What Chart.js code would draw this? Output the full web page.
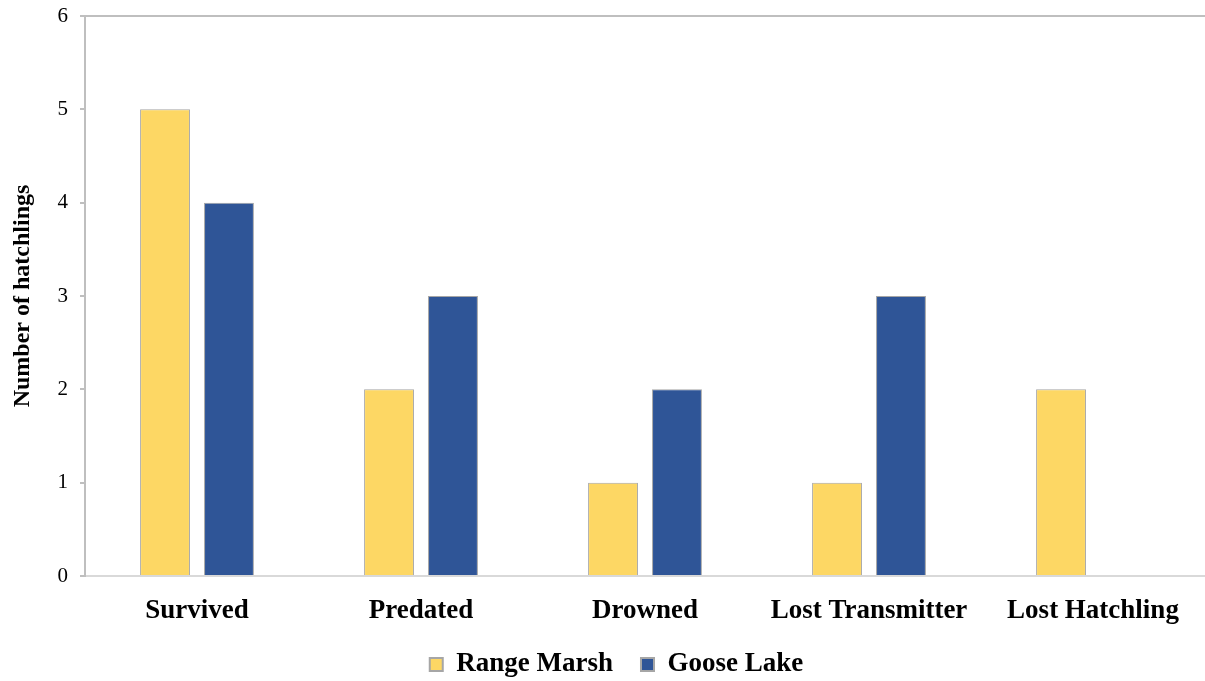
<!DOCTYPE html>
<html>
<head>
<meta charset="utf-8">
<script src="https://cdn.jsdelivr.net/npm/chart.js@4"></script>
<style>
  html, body { margin: 0; padding: 0; background: #ffffff; }
  #wrap { width: 1205px; height: 681px; }
</style>
</head>
<body>
<div id="wrap"><canvas id="chart" width="1205" height="681"></canvas></div>
<script>
// Hatchling fates by site
const categories = ['Survived', 'Predated', 'Drowned', 'Lost Transmitter', 'Lost Hatchling'];
const rangeMarsh = [5, 2, 1, 1, 2];
const gooseLake = [4, 3, 2, 3, 0];
const yTicks = [0, 1, 2, 3, 4, 5, 6];

const serif = "'Liberation Serif', 'Times New Roman', serif";

// Legend band: fixed height in the layout; its box is then stretched upward
// and nudged right so the wide-spaced items sit under the plot centre.
const LEGEND_BAND = 49;
const LEGEND_LIFT = 9;
const LEGEND_SHIFT = 14;
const legendBand = {
  id: 'legendBand',
  beforeLayout(chart) {
    const lg = chart.legend;
    if (lg && !lg._bandFit) {
      const fit = lg.fit;
      lg.fit = function () {
        fit.call(this);
        this.height = LEGEND_BAND;
      };
      lg._bandFit = true;
    }
  },
  afterLayout(chart) {
    const lg = chart.legend;
    if (lg) {
      lg.top -= LEGEND_LIFT;
      lg.left += LEGEND_SHIFT;
      lg.right += LEGEND_SHIFT;
    }
  }
};

new Chart(document.getElementById('chart'), {
  type: 'bar',
  data: {
    labels: categories,
    datasets: [
      {
        label: 'Range Marsh',
        data: rangeMarsh,
        backgroundColor: '#FDD764',
        borderColor: '#A6A6A6',
        borderWidth: 1,
        categoryPercentage: 0.571,
        barPercentage: 0.78
      },
      {
        label: 'Goose Lake',
        data: gooseLake,
        backgroundColor: '#2F5597',
        borderColor: '#A6A6A6',
        borderWidth: 1,
        categoryPercentage: 0.571,
        barPercentage: 0.78
      }
    ]
  },
  plugins: [legendBand],
  options: {
    responsive: false,
    animation: false,
    layout: { padding: { top: 16, right: 0, left: 0, bottom: 0 } },
    plugins: {
      tooltip: { enabled: false },
      legend: {
        position: 'bottom',
        labels: {
          color: '#000000',
          font: { family: serif, size: 27, weight: 'bold' },
          boxWidth: 13,
          boxHeight: 13,
          padding: 28,
          generateLabels(chart) {
            return chart.data.datasets.map((ds, i) => ({
              text: ds.label,
              fillStyle: ds.backgroundColor,
              strokeStyle: '#A6A6A6',
              lineWidth: 2,
              fontColor: '#000000',
              datasetIndex: i
            }));
          }
        }
      }
    },
    scales: {
      x: {
        border: { color: '#D9D9D9', width: 2 },
        grid: { drawOnChartArea: false, drawTicks: false },
        ticks: {
          color: '#000000',
          padding: 19,
          font: { family: serif, size: 27, weight: 'bold' },
          maxRotation: 0
        },
        afterFit(scale) {
          scale.height = 56;
          scale.paddingLeft = 0;
          scale.paddingRight = 0;
        }
      },
      y: {
        min: 0,
        max: 6,
        afterBuildTicks(scale) { scale.ticks = yTicks.map(v => ({ value: v })); },
        border: { color: '#BFBFBF', width: 2 },
        grid: {
          color: ctx => (ctx.tick && ctx.tick.value === 6 ? '#BFBFBF' : 'rgba(0,0,0,0)'),
          lineWidth: 2,
          tickColor: '#BFBFBF',
          tickLength: 5
        },
        ticks: {
          color: '#000000',
          padding: 12,
          font: { family: serif, size: 21 }
        },
        title: {
          display: true,
          text: 'Number of hatchlings',
          color: '#000000',
          font: { family: serif, size: 24, weight: 'bold' },
          padding: { top: 8, bottom: 0 }
        },
        afterFit(scale) {
          scale.width = 85;
          scale.paddingTop = 0;
          scale.paddingBottom = 0;
        }
      }
    }
  }
});
</script>
</body>
</html>
